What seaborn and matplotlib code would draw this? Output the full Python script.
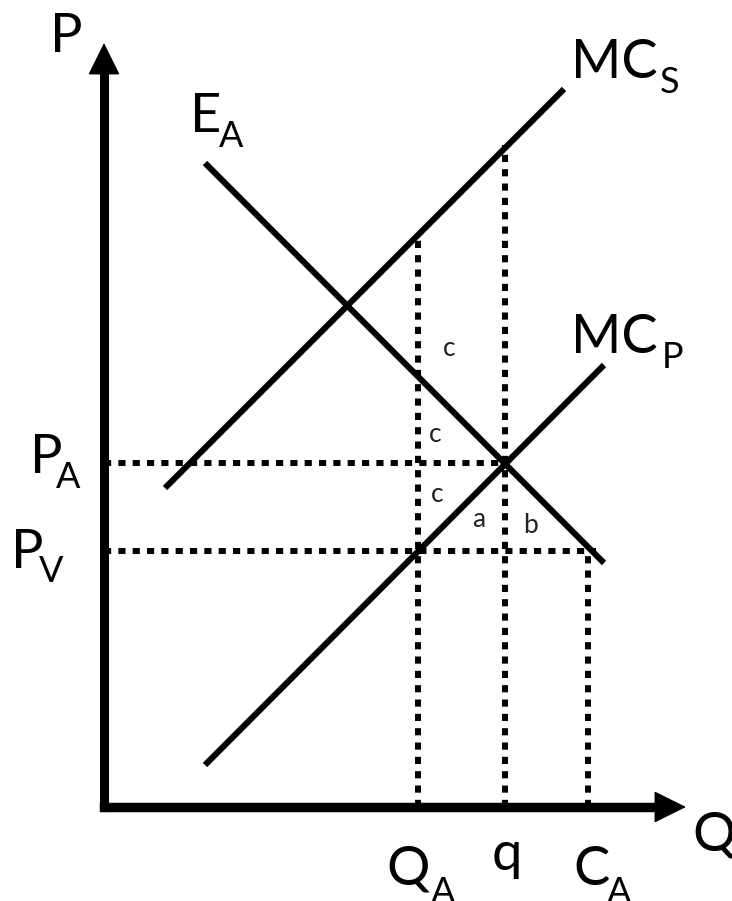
import matplotlib
matplotlib.use("Agg")
import matplotlib.pyplot as plt
import seaborn as sns
import pandas as pd

# Curves (Q, P) endpoints in diagram units
mc_s_q = [0.61, 4.60]
mc_s_p = [3.19, 7.18]
e_a_q = [1.01, 5.00]
e_a_p = [6.44, 2.44]
mc_p_q = [1.01, 5.00]
mc_p_p = [0.42, 4.42]

# Reference quantities / prices
q_marks = [3.14, 4.01, 4.84]          # Q_A, q, C_A
q_tops = [5.72, 6.62, 2.56]           # where the dotted verticals stop
p_marks = [3.44, 2.56]                # P_A, P_V
p_ends = [4.01, 4.92]                 # where the dotted horizontals stop

# axis extents
q_max = 5.82
p_max = 7.64

sns.set_theme(style="white")
plt.rcParams["font.family"] = ["Lato", "DejaVu Sans"]

fig = plt.figure(figsize=(7.32, 9.01), dpi=100)
ax = fig.add_axes([0, 0, 1, 1])
ax.set_xlim(-1.04, 6.28)
ax.set_ylim(-0.94, 8.07)
ax.axis("off")

curves = pd.DataFrame({
    "Q": mc_s_q + e_a_q + mc_p_q,
    "P": mc_s_p + e_a_p + mc_p_p,
    "curve": ["MC_S"] * 2 + ["E_A"] * 2 + ["MC_P"] * 2,
})
for name, d in curves.groupby("curve"):
    sns.lineplot(data=d, x="Q", y="P", ax=ax, color="black", lw=4.4,
                 sort=False, solid_capstyle="butt")

# dotted guides
dot = dict(color="black", lw=4.3, linestyle=(0, (1.2, 1.2)), dash_capstyle="butt")
for x, top in zip(q_marks, q_tops):
    ax.plot([x, x], [0, top], **dot)
for y, end in zip(p_marks, p_ends):
    ax.plot([0, end], [y, y], **dot)

# axes with arrows
ax.plot([0, 0], [0, p_max - 0.25], color="black", lw=6.5, solid_capstyle="projecting")
ax.plot([0, q_max - 0.25], [0, 0], color="black", lw=6.8, solid_capstyle="projecting")
head = dict(arrowstyle="-|>,head_length=1.05,head_width=0.52", color="black",
            lw=1, mutation_scale=20, shrinkA=0, shrinkB=0)
ax.annotate("", xy=(0, p_max), xytext=(0, p_max - 0.35), arrowprops=head)
ax.annotate("", xy=(q_max, 0), xytext=(q_max - 0.35, 0), arrowprops=head)

# main labels and their subscripts
labels = [
    ("P", -0.54, 7.55),
    ("E", 0.86, 6.75),
    ("MC", 4.67, 7.29),
    ("MC", 4.67, 4.54),
    ("P", -0.74, 3.34),
    ("P", -0.93, 2.39),
    ("Q", 2.82, -0.78),
    ("q", 3.88, -0.63),
    ("C", 4.69, -0.78),
    ("Q", 5.88, -0.43),
]
for txt, x, y in labels:
    ax.text(x, y, txt, fontsize=39, ha="left", va="baseline", color="black")

subs = [
    ("A", 1.15, 6.60),
    ("S", 5.56, 7.14),
    ("P", 5.58, 4.39),
    ("A", -0.48, 3.19),
    ("V", -0.65, 2.25),
    ("A", 3.27, -0.96),
    ("A", 5.03, -0.96),
]
for txt, x, y in subs:
    ax.text(x, y, txt, fontsize=26, ha="left", va="baseline", color="black")

small = [("c", 3.39, 4.51), ("c", 3.25, 3.65), ("c", 3.27, 3.05),
         ("a", 3.68, 2.80), ("b", 4.19, 2.74)]
for txt, x, y in small:
    ax.text(x, y, txt, fontsize=19, ha="left", va="baseline", color="#222222")

fig.savefig("out.png", dpi=100)
